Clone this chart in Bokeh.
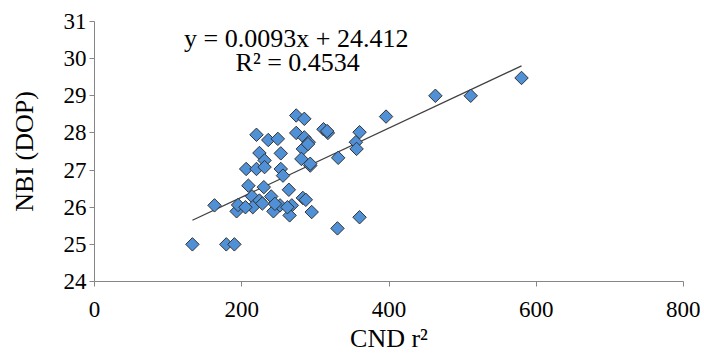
import numpy as np
from bokeh.plotting import figure
from bokeh.models import Range1d, Label, FixedTicker
from bokeh.embed import file_html
from bokeh.resources import INLINE

cnd_r2 = [133, 179, 190, 330, 360, 163, 193, 195, 209, 230, 214, 224, 215, 240, 243,
          252, 264, 268, 265, 283, 295, 245, 220, 236, 249, 274, 285, 274, 285, 291,
          283, 281, 293, 311, 317, 331, 224, 231, 253, 206, 220, 231, 253, 256, 290,
          580, 511, 463, 396, 360, 355, 356, 293, 228, 205, 262, 316, 287]
nbi_dop = [25.00, 25.00, 25.00, 25.43, 25.73, 26.05, 25.89, 26.06, 26.58, 26.54, 26.29, 26.18, 26.00, 26.29, 25.89,
           26.05, 26.47, 26.05, 25.78, 26.25, 25.87, 26.09, 27.95, 27.81, 27.84, 28.47, 28.38, 28.00, 27.88, 27.75,
           27.57, 27.30, 27.12, 28.10, 28.00, 27.33, 27.46, 27.26, 27.45, 27.03, 27.03, 27.08, 27.03, 26.85, 27.70,
           29.48, 29.00, 29.00, 28.44, 28.02, 27.75, 27.57, 27.17, 26.10, 26.00, 26.00, 28.05, 26.20]

slope = 0.0093
intercept = 24.412
equation_text = "y = 0.0093x + 24.412"
r2_text = "R² = 0.4534"
x_ticks = [0, 200, 400, 600, 800]
y_ticks = [24, 25, 26, 27, 28, 29, 30, 31]

FONT = "Liberation Serif"

p = figure(width=700, height=360, output_backend="svg", toolbar_location=None,
           x_range=Range1d(0, 800), y_range=Range1d(24, 31),
           min_border_left=94, min_border_right=17, min_border_top=21, min_border_bottom=79)
p.outline_line_color = None
p.xgrid.grid_line_color = None
p.ygrid.grid_line_color = None

for ax in (p.xaxis[0], p.yaxis[0]):
    ax.axis_line_color = "#868686"
    ax.major_tick_line_color = "#868686"
    ax.major_tick_out = 5
    ax.major_tick_in = 0
    ax.minor_tick_line_color = None
    ax.major_label_text_font = FONT
    ax.major_label_text_font_size = "23px"
    ax.major_label_text_color = "black"
    ax.axis_label_text_font = FONT
    ax.axis_label_text_font_size = "26px"
    ax.axis_label_text_font_style = "normal"
    ax.axis_label_text_color = "black"

p.xaxis.ticker = FixedTicker(ticks=x_ticks)
p.yaxis.ticker = FixedTicker(ticks=y_ticks)
p.xaxis.axis_label = "CND r²"
p.yaxis.axis_label = "NBI (DOP)"
p.xaxis.major_label_standoff = 15
p.yaxis.major_label_standoff = 3
p.xaxis.axis_label_standoff = 4
p.yaxis.axis_label_standoff = 22

x0, x1 = min(cnd_r2), max(cnd_r2)
p.line([x0, x1], [slope * x0 + intercept, slope * x1 + intercept], line_color="#404040", line_width=1.3)

p.scatter(cnd_r2, nbi_dop, marker="square", size=9.5, angle=np.pi / 4,
          fill_color="#4F90D6", line_color="#333333", line_width=1)

p.add_layout(Label(x=274, y=30.54, text=equation_text, text_font=FONT, text_font_size="26px",
                   text_align="center", text_baseline="alphabetic", text_color="black"))
p.add_layout(Label(x=276, y=29.90, text=r2_text, text_font=FONT, text_font_size="26px",
                   text_align="center", text_baseline="alphabetic", text_color="black"))

open("out.html", "w").write(file_html(p, INLINE))
